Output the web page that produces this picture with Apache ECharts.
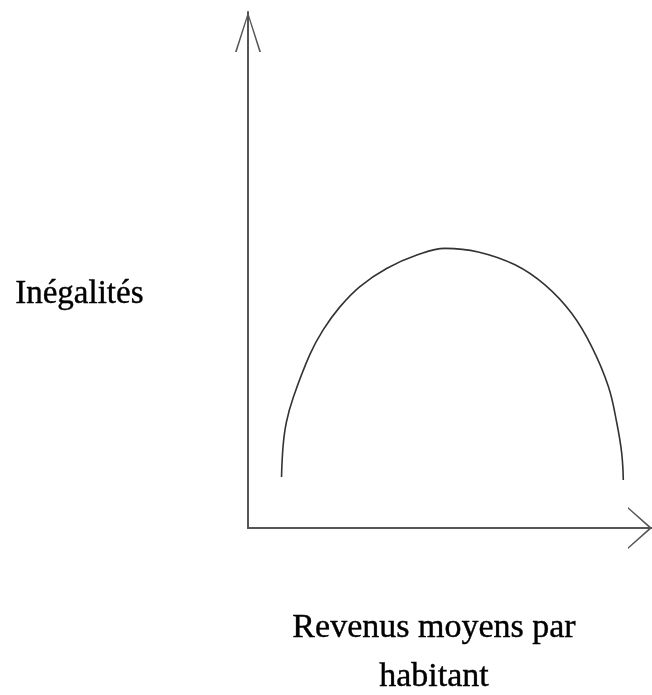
<!DOCTYPE html>
<html>
<head>
<meta charset="utf-8">
<script src="https://cdn.jsdelivr.net/npm/echarts@6/dist/echarts.min.js"></script>
<style>
  html, body { margin: 0; padding: 0; background: #fff; }
  #chart { width: 652px; height: 695px; }
</style>
</head>
<body>
<div id="chart"></div>
<script>
// courbe de Kuznets (axes 0..100)
const revenus = [8.3, 8.7, 9.5, 11.2, 15.3, 18.6, 22.8, 27.7, 34.3, 41.8, 48.8, 57.0, 66.1, 73.5, 80.1, 85.1, 89.2, 91.3, 92.5, 92.9];
const inegalites = [9.9, 16.0, 20.5, 25.3, 33.6, 38.4, 42.9, 46.8, 50.3, 52.9, 54.2, 53.5, 51.0, 47.1, 41.6, 35.1, 27.4, 20.3, 14.5, 9.3];
const yLabel = 'Inégalités';
const xLabel = ['Revenus moyens par', 'habitant'];

const chart = echarts.init(document.getElementById('chart'));
const serif = '"Liberation Serif", "DejaVu Serif", serif';
// fleches ouvertes en V (l'aspect du chemin est conserve)
const chevronY = 'path://M13 0 L26 40 L24.3 40 L13 4 L1.7 40 L0 40 Z';
const chevronX = 'path://M21 0 L42 24 L40.2 24 L21 2.6 L1.8 24 L0 24 Z';

const textStyle = { font: '34px ' + serif, fill: '#000', stroke: '#000', lineWidth: 0.4 };

chart.setOption({
  backgroundColor: '#fff',
  animation: false,
  grid: { left: 248, right: 0, top: 12, bottom: 167 },
  xAxis: {
    type: 'value',
    min: 0,
    max: 100,
    axisLine: {
      lineStyle: { color: '#555', width: 2 },
      symbol: ['none', chevronX],
      symbolSize: [42, 24],
      symbolOffset: [0, -12]
    },
    axisTick: { show: false },
    axisLabel: { show: false },
    splitLine: { show: false }
  },
  yAxis: {
    type: 'value',
    min: 0,
    max: 100,
    axisLine: {
      show: true,
      lineStyle: { color: '#555', width: 2 },
      symbol: ['none', chevronY],
      symbolSize: [26, 40],
      symbolOffset: [0, -20]
    },
    axisTick: { show: false },
    axisLabel: { show: false },
    splitLine: { show: false }
  },
  graphic: [
    {
      type: 'text',
      left: 15,
      top: 278,
      style: Object.assign({}, textStyle, { text: yLabel, font: '33px ' + serif })
    },
    {
      type: 'text',
      x: 434,
      y: 628,
      style: Object.assign({}, textStyle, { text: xLabel[0], textAlign: 'center', textVerticalAlign: 'middle' })
    },
    {
      type: 'text',
      x: 434,
      y: 677,
      style: Object.assign({}, textStyle, { text: xLabel[1], textAlign: 'center', textVerticalAlign: 'middle' })
    }
  ],
  series: [
    {
      type: 'line',
      smooth: 0.4,
      symbol: 'none',
      lineStyle: { color: '#333', width: 1.6 },
      data: revenus.map((x, i) => [x, inegalites[i]])
    }
  ]
});
</script>
</body>
</html>
